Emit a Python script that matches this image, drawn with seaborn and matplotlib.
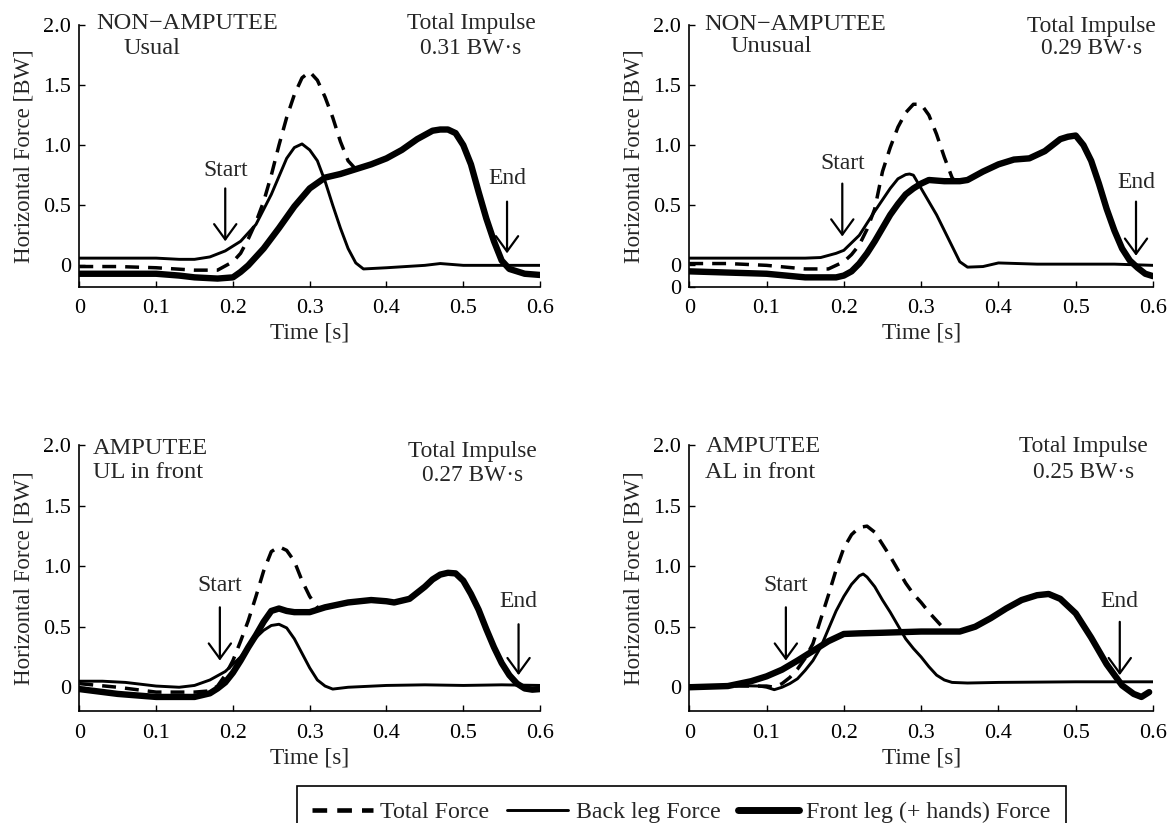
import matplotlib
matplotlib.use("Agg")
import matplotlib.pyplot as plt
from matplotlib.lines import Line2D
import seaborn as sns

# ---- NON-AMPUTEE, usual ----
T_TOTAL_1 = [0, 0.05, 0.10, 0.15, 0.18, 0.20, 0.21, 0.22, 0.23, 0.24, 0.25, 0.26,
             0.27, 0.28, 0.29, 0.30, 0.31, 0.32, 0.33, 0.34, 0.35, 0.36]
TOTAL_1 = [-0.01, -0.01, -0.02, -0.04, -0.04, 0.03, 0.10, 0.22, 0.36, 0.53, 0.75, 1.00,
           1.23, 1.42, 1.56, 1.61, 1.54, 1.40, 1.23, 1.03, 0.87, 0.80]
T_BACK_1 = [0, 0.05, 0.10, 0.13, 0.15, 0.17, 0.19, 0.21, 0.23, 0.25, 0.27, 0.28, 0.29,
            0.30, 0.31, 0.32, 0.33, 0.34, 0.35, 0.36, 0.37, 0.40, 0.45, 0.47, 0.50, 0.60]
BACK_1 = [0.06, 0.06, 0.06, 0.05, 0.05, 0.07, 0.12, 0.20, 0.34, 0.59, 0.89, 0.98, 1.01,
          0.96, 0.87, 0.70, 0.50, 0.31, 0.14, 0.02, -0.03, -0.02, 0.00, 0.015, 0.00, 0.00]
T_FRONT_1 = [0, 0.05, 0.10, 0.13, 0.15, 0.18, 0.20, 0.21, 0.22, 0.24, 0.26, 0.28, 0.30,
             0.32, 0.34, 0.36, 0.38, 0.40, 0.42, 0.44, 0.46, 0.47, 0.48, 0.49, 0.50,
             0.51, 0.52, 0.53, 0.54, 0.55, 0.56, 0.58, 0.60]
FRONT_1 = [-0.07, -0.07, -0.07, -0.085, -0.10, -0.11, -0.10, -0.055, 0.00, 0.14, 0.31,
           0.49, 0.64, 0.73, 0.76, 0.80, 0.84, 0.89, 0.96, 1.05, 1.12, 1.13, 1.13, 1.10,
           1.00, 0.84, 0.61, 0.39, 0.20, 0.04, -0.03, -0.07, -0.08]

# ---- NON-AMPUTEE, unusual ----
T_TOTAL_2 = [0, 0.05, 0.10, 0.15, 0.18, 0.20, 0.21, 0.22, 0.23, 0.24, 0.25, 0.26, 0.27,
             0.28, 0.29, 0.30, 0.31, 0.32, 0.33, 0.34, 0.345]
TOTAL_2 = [0.015, 0.015, 0.00, -0.03, -0.03, 0.03, 0.09, 0.17, 0.30, 0.47, 0.78, 0.98,
           1.15, 1.27, 1.34, 1.34, 1.25, 1.09, 0.90, 0.73, 0.69]
T_BACK_2 = [0, 0.05, 0.10, 0.15, 0.17, 0.19, 0.20, 0.22, 0.24, 0.26, 0.27, 0.28, 0.285,
            0.29, 0.30, 0.31, 0.32, 0.33, 0.34, 0.35, 0.36, 0.38, 0.40, 0.45, 0.50, 0.55, 0.60]
BACK_2 = [0.06, 0.06, 0.06, 0.06, 0.065, 0.10, 0.125, 0.25, 0.45, 0.64, 0.72, 0.755, 0.76,
          0.75, 0.64, 0.53, 0.42, 0.29, 0.16, 0.03, -0.015, -0.01, 0.02, 0.01, 0.01, 0.01, 0.00]
T_FRONT_2 = [0, 0.05, 0.10, 0.15, 0.19, 0.20, 0.21, 0.22, 0.23, 0.24, 0.25, 0.26, 0.27,
             0.28, 0.29, 0.30, 0.31, 0.33, 0.35, 0.36, 0.38, 0.40, 0.42, 0.44, 0.46, 0.48,
             0.49, 0.50, 0.51, 0.52, 0.53, 0.54, 0.55, 0.56, 0.57, 0.58, 0.59, 0.60]
FRONT_2 = [-0.05, -0.06, -0.07, -0.10, -0.10, -0.085, -0.05, 0.015, 0.10, 0.20, 0.31, 0.42,
           0.51, 0.59, 0.64, 0.68, 0.71, 0.70, 0.70, 0.71, 0.78, 0.84, 0.88, 0.89, 0.95, 1.05,
           1.07, 1.08, 1.00, 0.87, 0.68, 0.47, 0.29, 0.14, 0.04, -0.02, -0.07, -0.09]

# ---- AMPUTEE, UL in front ----
T_TOTAL_3 = [0, 0.05, 0.10, 0.15, 0.17, 0.18, 0.19, 0.20, 0.21, 0.22, 0.23, 0.24, 0.25,
             0.26, 0.27, 0.28, 0.29, 0.30, 0.31]
TOTAL_3 = [0.03, 0.00, -0.04, -0.04, -0.03, 0.01, 0.10, 0.22, 0.38, 0.55, 0.75, 0.96, 1.12,
           1.16, 1.13, 1.04, 0.88, 0.75, 0.66]
T_BACK_3 = [0, 0.03, 0.06, 0.10, 0.13, 0.15, 0.17, 0.19, 0.20, 0.21, 0.22, 0.23, 0.24, 0.25,
            0.26, 0.27, 0.28, 0.29, 0.30, 0.31, 0.32, 0.33, 0.35, 0.40, 0.45, 0.50, 0.55, 0.60]
BACK_3 = [0.05, 0.05, 0.04, 0.01, 0.00, 0.015, 0.06, 0.13, 0.19, 0.25, 0.33, 0.41, 0.47, 0.51,
          0.52, 0.49, 0.40, 0.28, 0.16, 0.06, 0.01, -0.015, 0.00, 0.015, 0.02, 0.015, 0.02, 0.015]
T_FRONT_3 = [0, 0.05, 0.10, 0.15, 0.17, 0.18, 0.19, 0.20, 0.21, 0.22, 0.23, 0.24, 0.25, 0.26,
             0.27, 0.28, 0.30, 0.32, 0.35, 0.38, 0.40, 0.41, 0.43, 0.45, 0.46, 0.47, 0.48,
             0.49, 0.50, 0.51, 0.52, 0.53, 0.54, 0.55, 0.56, 0.57, 0.58, 0.59, 0.60]
FRONT_3 = [-0.015, -0.055, -0.08, -0.08, -0.05, -0.01, 0.04, 0.12, 0.22, 0.33, 0.43, 0.54,
           0.63, 0.65, 0.63, 0.62, 0.62, 0.66, 0.70, 0.72, 0.71, 0.70, 0.73, 0.83, 0.89, 0.93,
           0.945, 0.94, 0.88, 0.77, 0.64, 0.48, 0.33, 0.20, 0.10, 0.03, -0.01, -0.02, -0.015]

# ---- AMPUTEE, AL in front ----
T_TOTAL_4 = [0, 0.05, 0.09, 0.10, 0.11, 0.12, 0.13, 0.14, 0.15, 0.16, 0.17, 0.18, 0.19, 0.20,
             0.21, 0.22, 0.23, 0.24, 0.25, 0.26, 0.27, 0.28, 0.29, 0.30, 0.31, 0.32, 0.33]
TOTAL_4 = [0.00, 0.01, 0.01, 0.01, 0.00, 0.03, 0.08, 0.15, 0.24, 0.36, 0.56, 0.76, 0.97, 1.15,
           1.26, 1.32, 1.33, 1.28, 1.18, 1.08, 0.97, 0.86, 0.77, 0.70, 0.62, 0.55, 0.48]
T_BACK_4 = [0, 0.05, 0.09, 0.10, 0.11, 0.12, 0.13, 0.14, 0.15, 0.16, 0.17, 0.18, 0.19, 0.20,
            0.21, 0.22, 0.225, 0.23, 0.24, 0.25, 0.26, 0.27, 0.28, 0.29, 0.30, 0.31, 0.32,
            0.33, 0.34, 0.36, 0.40, 0.50, 0.60]
BACK_4 = [0.015, 0.015, 0.01, 0.00, -0.02, 0.00, 0.03, 0.07, 0.14, 0.22, 0.33, 0.48, 0.63,
          0.75, 0.85, 0.92, 0.935, 0.91, 0.83, 0.72, 0.62, 0.51, 0.40, 0.32, 0.25, 0.17,
          0.10, 0.06, 0.04, 0.035, 0.04, 0.045, 0.045]
T_FRONT_4 = [0, 0.05, 0.08, 0.10, 0.12, 0.14, 0.16, 0.18, 0.20, 0.22, 0.25, 0.30, 0.35, 0.37,
             0.39, 0.41, 0.43, 0.45, 0.465, 0.48, 0.50, 0.52, 0.54, 0.56, 0.575, 0.585, 0.595]
FRONT_4 = [0.00, 0.01, 0.05, 0.09, 0.145, 0.22, 0.30, 0.38, 0.44, 0.445, 0.45, 0.46, 0.46, 0.50,
           0.57, 0.65, 0.72, 0.76, 0.77, 0.73, 0.61, 0.41, 0.19, 0.015, -0.055, -0.08, -0.04]

GROUPS = ["NON\u2212AMPUTEE", "NON\u2212AMPUTEE", "AMPUTEE", "AMPUTEE"]
CONDITIONS = ["Usual", "Unusual", "UL in front", "AL in front"]
IMPULSES = ["0.31 BW\u00b7s", "0.29 BW\u00b7s", "0.27 BW\u00b7s", "0.25 BW\u00b7s"]
START_T = [0.19, 0.198, 0.183, 0.125]
END_T = [0.557, 0.578, 0.572, 0.557]
LEGEND_LABELS = ["Total Force", "Back leg Force", "Front leg (+ hands) Force"]

series = [
    (T_TOTAL_1, TOTAL_1, T_BACK_1, BACK_1, T_FRONT_1, FRONT_1),
    (T_TOTAL_2, TOTAL_2, T_BACK_2, BACK_2, T_FRONT_2, FRONT_2),
    (T_TOTAL_3, TOTAL_3, T_BACK_3, BACK_3, T_FRONT_3, FRONT_3),
    (T_TOTAL_4, TOTAL_4, T_BACK_4, BACK_4, T_FRONT_4, FRONT_4),
]

sns.set_style("ticks")
plt.rcParams["font.family"] = ["Liberation Serif", "DejaVu Serif"]
plt.rcParams["font.size"] = 16.5

DASH = (0, (4, 2.6))
LW_TOTAL, LW_BACK, LW_FRONT = 2.5, 2.1, 4.6

fig = plt.figure(figsize=(11.72, 8.23), dpi=100)
rects = [
    [0.0677, 0.6513, 0.3931, 0.3184],
    [0.5881, 0.6513, 0.3957, 0.3184],
    [0.0677, 0.1355, 0.3931, 0.3238],
    [0.5881, 0.1355, 0.3957, 0.3238],
]
ylows = [-0.18, -0.18, -0.2, -0.2]
# text placement per panel: (group x, group y, cond x, cond y, impulse x, y1, y2)
text_pos = [
    (0.022, 2.01, 0.057, 1.80, 0.51, 2.01, 1.80),
    (0.019, 2.00, 0.053, 1.82, 0.52, 1.99, 1.80),
    (0.018, 1.97, 0.018, 1.77, 0.512, 1.945, 1.75),
    (0.021, 1.99, 0.021, 1.77, 0.51, 1.99, 1.77),
]
# arrows: (start tail, start head, start label y, end tail, end head, end label y)
arrow_pos = [
    (0.64, 0.20, 0.79, 0.53, 0.10, 0.72),
    (0.68, 0.24, 0.85, 0.53, 0.08, 0.69),
    (0.66, 0.22, 0.84, 0.52, 0.10, 0.71),
    (0.66, 0.22, 0.84, 0.54, 0.10, 0.71),
]

for i, (tt, tot, tb, back, tf, front) in enumerate(series):
    ax = fig.add_axes(rects[i])
    sns.lineplot(x=tt, y=tot, ax=ax, color="black", linewidth=LW_TOTAL,
                 linestyle=DASH, estimator=None, sort=False)
    sns.lineplot(x=tb, y=back, ax=ax, color="black", linewidth=LW_BACK,
                 estimator=None, sort=False)
    sns.lineplot(x=tf, y=front, ax=ax, color="black", linewidth=LW_FRONT,
                 estimator=None, sort=False)

    ax.set_xlim(0, 0.6)
    ax.set_ylim(ylows[i], 2.0)
    ax.set_xticks([0, 0.1, 0.2, 0.3, 0.4, 0.5, 0.6])
    ax.set_xticklabels(["0", "0.1", "0.2", "0.3", "0.4", "0.5", "0.6"])
    if i == 1:
        ax.set_yticks([ylows[i], 0, 0.5, 1.0, 1.5, 2.0])
        ax.set_yticklabels(["0", "0", "0.5", "1.0", "1.5", "2.0"])
    else:
        ax.set_yticks([0, 0.5, 1.0, 1.5, 2.0])
        ax.set_yticklabels(["0", "0.5", "1.0", "1.5", "2.0"])
    ax.tick_params(direction="in", length=4, width=1, labelsize=16, pad=6, colors="black")
    ax.tick_params(axis="x", pad=9)
    sns.despine(ax=ax)
    for sp in ("left", "bottom"):
        ax.spines[sp].set_linewidth(1.2)
        ax.spines[sp].set_color("black")
    ax.set_xlabel("Time [s]", fontsize=16.8, labelpad=3)
    ax.set_ylabel("Horizontal Force [BW]", fontsize=16.5, labelpad=6)

    gx, gy, cx, cy, ix, iy1, iy2 = text_pos[i]
    ax.text(gx, gy, GROUPS[i], ha="left", va="center", fontsize=17.6)
    ax.text(cx, cy, CONDITIONS[i], ha="left", va="center", fontsize=17.6)
    ax.text(ix, iy1, "Total Impulse", ha="center", va="center", fontsize=16.8)
    ax.text(ix, iy2, IMPULSES[i], ha="center", va="center", fontsize=16.8)

    s_tail, s_head, s_lab, e_tail, e_head, e_lab = arrow_pos[i]
    arrow = dict(arrowstyle="->,head_length=0.55,head_width=0.4", lw=1.6,
                 color="black", mutation_scale=20, shrinkA=0, shrinkB=0)
    ax.annotate("", xy=(START_T[i], s_head), xytext=(START_T[i], s_tail), arrowprops=arrow)
    ax.annotate("", xy=(END_T[i], e_head), xytext=(END_T[i], e_tail), arrowprops=arrow)
    ax.text(START_T[i], s_lab, "Start", ha="center", va="center", fontsize=17)
    ax.text(END_T[i], e_lab, "End", ha="center", va="center", fontsize=17)

handles = [
    Line2D([], [], color="black", linewidth=LW_TOTAL + 0.8, linestyle=(0, (3.2, 2.2))),
    Line2D([], [], color="black", linewidth=LW_BACK),
    Line2D([], [], color="black", linewidth=LW_FRONT + 0.4),
]
leg = fig.legend(handles, LEGEND_LABELS, loc="upper center", bbox_to_anchor=(0.5815, 0.0449),
                 ncol=3, frameon=True, fancybox=False, edgecolor="black", framealpha=1,
                 handlelength=2.55, handletextpad=0.3, columnspacing=0.75, borderpad=0.65,
                 borderaxespad=0, fontsize=17.2)
leg.get_frame().set_linewidth(1.2)

fig.savefig("out.png", dpi=100)
